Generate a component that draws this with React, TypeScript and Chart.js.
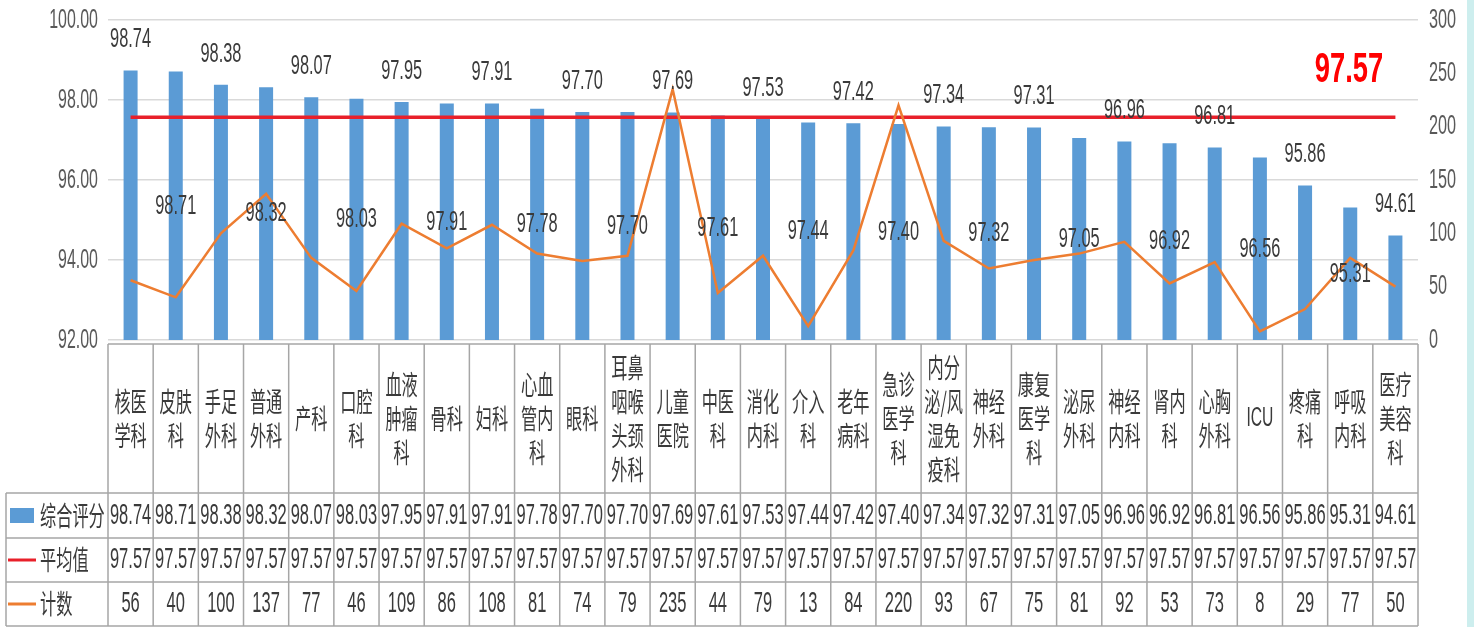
import { useEffect, useRef } from 'react';
import { Chart, registerables } from 'chart.js';

Chart.register(...registerables);

const categories: string[][] = [
  ['核医', '学科'], ['皮肤', '科'], ['手足', '外科'], ['普通', '外科'], ['产科'], ['口腔', '科'],
  ['血液', '肿瘤', '科'], ['骨科'], ['妇科'], ['心血', '管内', '科'], ['眼科'], ['耳鼻', '咽喉', '头颈', '外科'],
  ['儿童', '医院'], ['中医', '科'], ['消化', '内科'], ['介入', '科'], ['老年', '病科'], ['急诊', '医学', '科'],
  ['内分', '泌/风', '湿免', '疫科'], ['神经', '外科'], ['康复', '医学', '科'], ['泌尿', '外科'], ['神经', '内科'],
  ['肾内', '科'], ['心胸', '外科'], ['ICU'], ['疼痛', '科'], ['呼吸', '内科'], ['医疗', '美容', '科'],
];

const scores = [98.74, 98.71, 98.38, 98.32, 98.07, 98.03, 97.95, 97.91, 97.91, 97.78, 97.70, 97.70, 97.69, 97.61,
  97.53, 97.44, 97.42, 97.40, 97.34, 97.32, 97.31, 97.05, 96.96, 96.92, 96.81, 96.56, 95.86, 95.31, 94.61];

const averages = [97.57, 97.57, 97.57, 97.57, 97.57, 97.57, 97.57, 97.57, 97.57, 97.57, 97.57, 97.57, 97.57, 97.57,
  97.57, 97.57, 97.57, 97.57, 97.57, 97.57, 97.57, 97.57, 97.57, 97.57, 97.57, 97.57, 97.57, 97.57, 97.57];

const counts = [56, 40, 100, 137, 77, 46, 109, 86, 108, 81, 74, 79, 235, 44, 79, 13, 84, 220, 93, 67, 75, 81, 92,
  53, 73, 8, 29, 77, 50];

const seriesNames = ['综合评分', '平均值', '计数'];
const averageLabel = '97.57';

const BLUE = '#5b9bd5';
const RED = '#e8202a';
const ORANGE = '#ed7d31';
const TEXT = '#3a3a3a';
const TICK = '#595959';
const BORDER = '#a6a6a6';

const NUM_FONT = '"Liberation Sans", Arial, sans-serif';
const CJK_FONT = '"Noto Sans CJK SC", "Liberation Sans", sans-serif';

function drawText(ctx: CanvasRenderingContext2D, text: string, x: number, y: number, font: string,
  color: string, align: CanvasTextAlign, sx: number) {
  ctx.save();
  ctx.translate(x, y);
  ctx.scale(sx, 1);
  ctx.font = font;
  ctx.fillStyle = color;
  ctx.textAlign = align;
  ctx.textBaseline = 'middle';
  ctx.fillText(text, 0, 0);
  ctx.restore();
}

const decorPlugin = {
  id: 'decor',
  beforeDraw(chart: any) {
    const ctx = chart.ctx as CanvasRenderingContext2D;
    ctx.save();
    ctx.fillStyle = '#ffffff';
    ctx.fillRect(0, 0, chart.width, chart.height);
    ctx.fillStyle = '#cdeeee';
    ctx.fillRect(chart.width - 7, 0, 7, chart.height);
    ctx.restore();
  },
  afterDraw(chart: any) {
    const ctx = chart.ctx as CanvasRenderingContext2D;
    const area = chart.chartArea;
    const xs = chart.scales.x;
    const yl = chart.scales.y;
    const yr = chart.scales.y1;

    // axis tick labels
    yl.ticks.forEach((t: any) => {
      drawText(ctx, Number(t.value).toFixed(2), area.left - 10, yl.getPixelForValue(t.value),
        `28px ${NUM_FONT}`, TICK, 'right', 0.57);
    });
    yr.ticks.forEach((t: any) => {
      drawText(ctx, String(t.value), area.right + 11, yr.getPixelForValue(t.value),
        `28px ${NUM_FONT}`, TICK, 'left', 0.58);
    });

    // data labels for bars (alternating: above the bar / centred in the bar)
    const barIndex = chart.data.datasets.findIndex((d: any) => d.type === 'bar');
    const meta = chart.getDatasetMeta(barIndex);
    const basePx = yl.getPixelForValue(yl.min);
    meta.data.forEach((bar: any, i: number) => {
      const y = i % 2 === 0 ? bar.y - 31 : (bar.y + basePx) / 2;
      drawText(ctx, scores[i].toFixed(2), bar.x, y, `28px ${NUM_FONT}`, TEXT, 'center', 0.585);
    });

    // average annotation
    const avgY = yl.getPixelForValue(averages[averages.length - 1]);
    drawText(ctx, averageLabel, area.right - 69, avgY - 47, `bold 42px ${NUM_FONT}`, '#ff0000', 'center', 0.65);

    // data table
    const n = categories.length;
    const w = (area.right - area.left) / n;
    const top = area.bottom + 4;
    const r1 = 493, r2 = 538, r3 = 582, r4 = 626;
    const legendLeft = 6;

    ctx.save();
    ctx.strokeStyle = BORDER;
    ctx.lineWidth = 1.5;
    ctx.beginPath();
    ctx.moveTo(area.left, top); ctx.lineTo(area.right, top);
    [r1, r2, r3, r4].forEach((y) => { ctx.moveTo(legendLeft, y); ctx.lineTo(area.right, y); });
    ctx.moveTo(legendLeft, r1); ctx.lineTo(legendLeft, r4);
    for (let i = 0; i <= n; i++) {
      const x = area.left + i * w;
      ctx.moveTo(x, top); ctx.lineTo(x, r4);
    }
    ctx.stroke();
    ctx.restore();

    const headerMid = (top + r1) / 2;
    categories.forEach((lines, i) => {
      const cx = xs.getPixelForValue(i);
      const lh = 34;
      const start = headerMid - ((lines.length - 1) * lh) / 2;
      lines.forEach((ln, k) => {
        const isLatin = /^[A-Z]+$/.test(ln);
        drawText(ctx, ln, cx, start + k * lh, isLatin ? `27px ${NUM_FONT}` : `27px ${CJK_FONT}`, TEXT, 'center',
          isLatin ? 0.58 : 0.6);
      });
      drawText(ctx, scores[i].toFixed(2), cx, (r1 + r2) / 2, `30px ${NUM_FONT}`, TEXT, 'center', 0.55);
      drawText(ctx, averages[i].toFixed(2), cx, (r2 + r3) / 2, `30px ${NUM_FONT}`, TEXT, 'center', 0.55);
      drawText(ctx, String(counts[i]), cx, (r3 + r4) / 2, `30px ${NUM_FONT}`, TEXT, 'center', 0.55);
    });

    // legend keys in table
    ctx.save();
    ctx.fillStyle = BLUE;
    ctx.fillRect(10, 508, 24, 15);
    ctx.lineWidth = 3;
    ctx.strokeStyle = RED;
    ctx.beginPath(); ctx.moveTo(8, (r2 + r3) / 2); ctx.lineTo(36, (r2 + r3) / 2); ctx.stroke();
    ctx.strokeStyle = ORANGE;
    ctx.beginPath(); ctx.moveTo(8, (r3 + r4) / 2); ctx.lineTo(36, (r3 + r4) / 2); ctx.stroke();
    ctx.restore();
    drawText(ctx, seriesNames[0], 40, (r1 + r2) / 2, `27px ${CJK_FONT}`, TEXT, 'left', 0.6);
    drawText(ctx, seriesNames[1], 40, (r2 + r3) / 2, `27px ${CJK_FONT}`, TEXT, 'left', 0.6);
    drawText(ctx, seriesNames[2], 40, (r3 + r4) / 2, `27px ${CJK_FONT}`, TEXT, 'left', 0.6);
  },
};

export default function App() {
  const ref = useRef<HTMLCanvasElement | null>(null);

  useEffect(() => {
    document.body.style.margin = '0';
    const canvas = ref.current;
    if (!canvas) return;
    const chart = new Chart(canvas, {
      type: 'bar',
      data: {
        labels: categories.map((c) => c.join('')),
        datasets: [
          {
            type: 'line' as const,
            label: seriesNames[2],
            data: counts,
            yAxisID: 'y1',
            borderColor: ORANGE,
            borderWidth: 2.5,
            pointRadius: 0,
            tension: 0,
            order: 0,
          },
          {
            type: 'line' as const,
            label: seriesNames[1],
            data: averages,
            yAxisID: 'y',
            borderColor: RED,
            borderWidth: 3.5,
            pointRadius: 0,
            order: 1,
          },
          {
            type: 'bar' as const,
            label: seriesNames[0],
            data: scores,
            yAxisID: 'y',
            backgroundColor: BLUE,
            categoryPercentage: 1,
            barPercentage: 0.31,
            order: 2,
          },
        ] as any,
      },
      options: {
        responsive: false,
        animation: false,
        layout: { padding: { top: 20, bottom: 287, left: 0, right: 0 } },
        plugins: { legend: { display: false }, tooltip: { enabled: false } },
        scales: {
          x: { type: 'category', display: false, offset: true },
          y: {
            position: 'left',
            min: 92,
            max: 100,
            ticks: { stepSize: 2, display: false },
            grid: { color: '#d9d9d9', lineWidth: 1.5, drawTicks: false },
            border: { display: false },
            afterFit: (s: any) => { s.width = 108; },
          },
          y1: {
            position: 'right',
            min: 0,
            max: 300,
            ticks: { stepSize: 50, display: false },
            grid: { drawOnChartArea: false, drawTicks: false },
            border: { display: false },
            afterFit: (s: any) => { s.width = 56; },
          },
        },
      } as any,
      plugins: [decorPlugin],
    });
    return () => chart.destroy();
  }, []);

  return (
    <div style={{ width: 1474, height: 627, position: 'relative' }}>
      <canvas ref={ref} width={1474} height={627} style={{ display: 'block' }} />
    </div>
  );
}
